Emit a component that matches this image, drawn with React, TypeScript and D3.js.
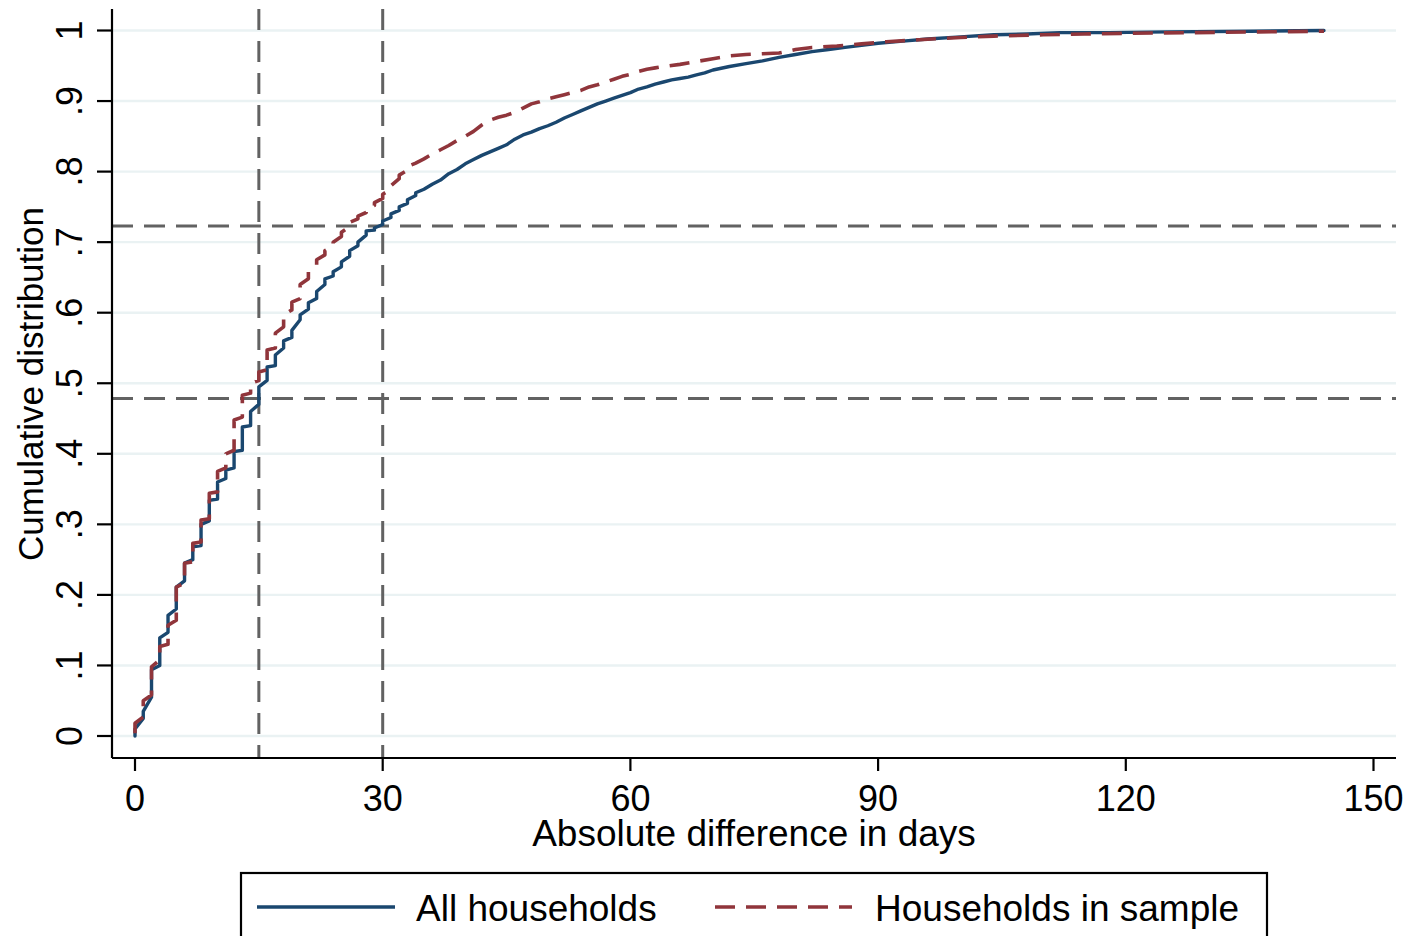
import React from "react";
import * as d3 from "d3";

// ---- data ----
const allDays = [0,0,1,1,2,2,3,3,4,4,5,5,6,6,7,7,8,8,9,9,10,10,11,11,12,12,13,13,14,14,15,15,16,16,17,17,18,18,19,19,20,20,21,21,22,22,23,23,24,24,25,25,26,26,27,27,28,28,29,29,30,30,31,31,32,32,33,33,34,34,35,36,37,38,39,40,41,42,43,44,45,46,47,48,49,50,51,52,53,54,55,56,57,58,59,60,61,62,63,64,65,66,67,68,69,70,72,74,76,78,80,82,84,86,88,90,93,96,100,104,108,112,118,125,135,144];
const allCdf = [0,0.01,0.025,0.035,0.055,0.094,0.1,0.139,0.147,0.171,0.18,0.211,0.22,0.245,0.25,0.268,0.27,0.3,0.305,0.334,0.336,0.36,0.365,0.377,0.38,0.403,0.405,0.438,0.44,0.46,0.47,0.495,0.504,0.523,0.525,0.54,0.55,0.56,0.565,0.575,0.59,0.597,0.605,0.614,0.62,0.63,0.64,0.648,0.652,0.658,0.665,0.672,0.68,0.688,0.695,0.7,0.71,0.716,0.717,0.72,0.725,0.73,0.735,0.74,0.745,0.75,0.755,0.76,0.766,0.77,0.775,0.782,0.788,0.797,0.803,0.811,0.817,0.823,0.828,0.833,0.838,0.846,0.852,0.856,0.861,0.865,0.87,0.876,0.881,0.886,0.891,0.896,0.9,0.904,0.908,0.912,0.917,0.92,0.924,0.927,0.93,0.932,0.934,0.937,0.94,0.944,0.949,0.953,0.957,0.962,0.966,0.97,0.973,0.976,0.979,0.982,0.985,0.988,0.991,0.994,0.995,0.997,0.997,0.998,0.999,1.0];

const sampleDays = [0,0,1,1,2,2,3,3,4,4,5,5,6,6,7,7,8,8,9,9,10,10,11,11,12,12,13,13,14,14,15,15,16,16,17,17,18,18,19,19,20,20,21,21,22,22,23,23,24,24,25,25,26,26,27,27,28,28,29,29,30,30,31,31,32,32,33,33,34,35,36,37,38,39,40,41,42,43,44,45,46,47,48,49,50,51,52,53,54,55,56,57,58,59,60,61,62,63,64,66,68,70,72,74,76,78,80,82,85,88,91,95,100,104,110,115,120,128,136,144];
const sampleCdf = [0.004,0.018,0.027,0.05,0.058,0.098,0.108,0.127,0.13,0.157,0.164,0.211,0.217,0.245,0.247,0.273,0.275,0.306,0.308,0.344,0.346,0.375,0.38,0.4,0.405,0.448,0.452,0.483,0.486,0.5,0.504,0.516,0.519,0.547,0.55,0.571,0.58,0.597,0.604,0.615,0.62,0.64,0.648,0.658,0.668,0.675,0.682,0.688,0.694,0.7,0.708,0.714,0.722,0.728,0.733,0.737,0.742,0.746,0.752,0.756,0.762,0.768,0.775,0.78,0.79,0.795,0.802,0.807,0.812,0.818,0.825,0.831,0.837,0.844,0.85,0.857,0.866,0.873,0.877,0.88,0.884,0.89,0.896,0.899,0.903,0.906,0.909,0.912,0.915,0.92,0.923,0.927,0.931,0.935,0.938,0.942,0.945,0.947,0.949,0.952,0.956,0.96,0.964,0.966,0.967,0.968,0.973,0.976,0.978,0.981,0.984,0.987,0.99,0.992,0.994,0.995,0.996,0.997,0.998,0.999];

const xTicks = [0, 30, 60, 90, 120, 150];
const yTicks = [0, 0.1, 0.2, 0.3, 0.4, 0.5, 0.6, 0.7, 0.8, 0.9, 1];
const yTickLabels = ["0", ".1", ".2", ".3", ".4", ".5", ".6", ".7", ".8", ".9", "1"];
const xRefLines = [15, 30];
const yRefLines = [0.4785, 0.723];
const seriesNames = ["All households", "Households in sample"];

const FONT = "'Liberation Sans', Arial, Helvetica, sans-serif";
const BLUE = "#1a476f";
const RED = "#90353b";
const REF = "#626262";
const GRID = "#eaf2f3";

export default function App() {
  const left = 112, right = 1396, top = 9, bottom = 758;
  const x = d3.scaleLinear().domain([0, 150]).range([135, 1373.5]);
  const y = d3.scaleLinear().domain([0, 1]).range([736, 30.5]);

  const line = d3.line<[number, number]>().x(d => x(d[0])).y(d => y(d[1]));
  const allPts: [number, number][] = allDays.map((d, i) => [d, allCdf[i]]);
  const samplePts: [number, number][] = sampleDays.map((d, i) => [d, sampleCdf[i]]);

  return (
    <svg width={1410} height={936} style={{ position: "absolute", left: 0, top: 0, background: "#fff" }} fontFamily={FONT}>
      <rect x={0} y={0} width={1410} height={936} fill="#fff" />
      {/* gridlines */}
      {yTicks.map((t, i) => (
        <line key={"g" + i} x1={left} x2={right} y1={y(t)} y2={y(t)} stroke={GRID} strokeWidth={2.4} />
      ))}
      {/* reference lines */}
      {yRefLines.map((v, i) => (
        <line key={"yr" + i} x1={left} x2={right} y1={y(v)} y2={y(v)} stroke={REF} strokeWidth={3} strokeDasharray="21 11" />
      ))}
      {xRefLines.map((v, i) => (
        <line key={"xr" + i} x1={x(v)} x2={x(v)} y1={top} y2={bottom} stroke={REF} strokeWidth={3} strokeDasharray="21 11" />
      ))}
      {/* series */}
      <path d={line(allPts) || ""} fill="none" stroke={BLUE} strokeWidth={3.4} strokeLinejoin="round" strokeLinecap="round" />
      <path d={line(samplePts) || ""} fill="none" stroke={RED} strokeWidth={3.6} strokeDasharray="20 11" strokeLinejoin="round" />
      {/* axes */}
      <line x1={left} x2={left} y1={top} y2={bottom} stroke="#000" strokeWidth={2.2} />
      <line x1={left} x2={right} y1={bottom} y2={bottom} stroke="#000" strokeWidth={2.2} />
      {yTicks.map((t, i) => (
        <g key={"yt" + i}>
          <line x1={97} x2={left} y1={y(t)} y2={y(t)} stroke="#000" strokeWidth={2.2} />
          <text transform={`translate(82,${y(t)}) rotate(-90)`} textAnchor="middle" fontSize={36} fill="#000">
            {yTickLabels[i]}
          </text>
        </g>
      ))}
      {xTicks.map((t, i) => (
        <g key={"xt" + i}>
          <line x1={x(t)} x2={x(t)} y1={bottom} y2={771} stroke="#000" strokeWidth={2.2} />
          <text x={x(t)} y={811} textAnchor="middle" fontSize={36} fill="#000">{t}</text>
        </g>
      ))}
      <text x={(left + right) / 2} y={846} textAnchor="middle" fontSize={37} fill="#000">Absolute difference in days</text>
      <text transform={`translate(43,384) rotate(-90)`} textAnchor="middle" fontSize={35} fill="#000">Cumulative distribution</text>
      {/* legend */}
      <rect x={241} y={873} width={1026} height={80} fill="#fff" stroke="#000" strokeWidth={2.2} />
      <line x1={257} x2={395} y1={907} y2={907} stroke={BLUE} strokeWidth={3.4} />
      <text x={416} y={921} fontSize={37} fill="#000">{seriesNames[0]}</text>
      <line x1={715} x2={852} y1={907} y2={907} stroke={RED} strokeWidth={3.6} strokeDasharray="20 11" />
      <text x={875} y={921} fontSize={37} fill="#000">{seriesNames[1]}</text>
    </svg>
  );
}
